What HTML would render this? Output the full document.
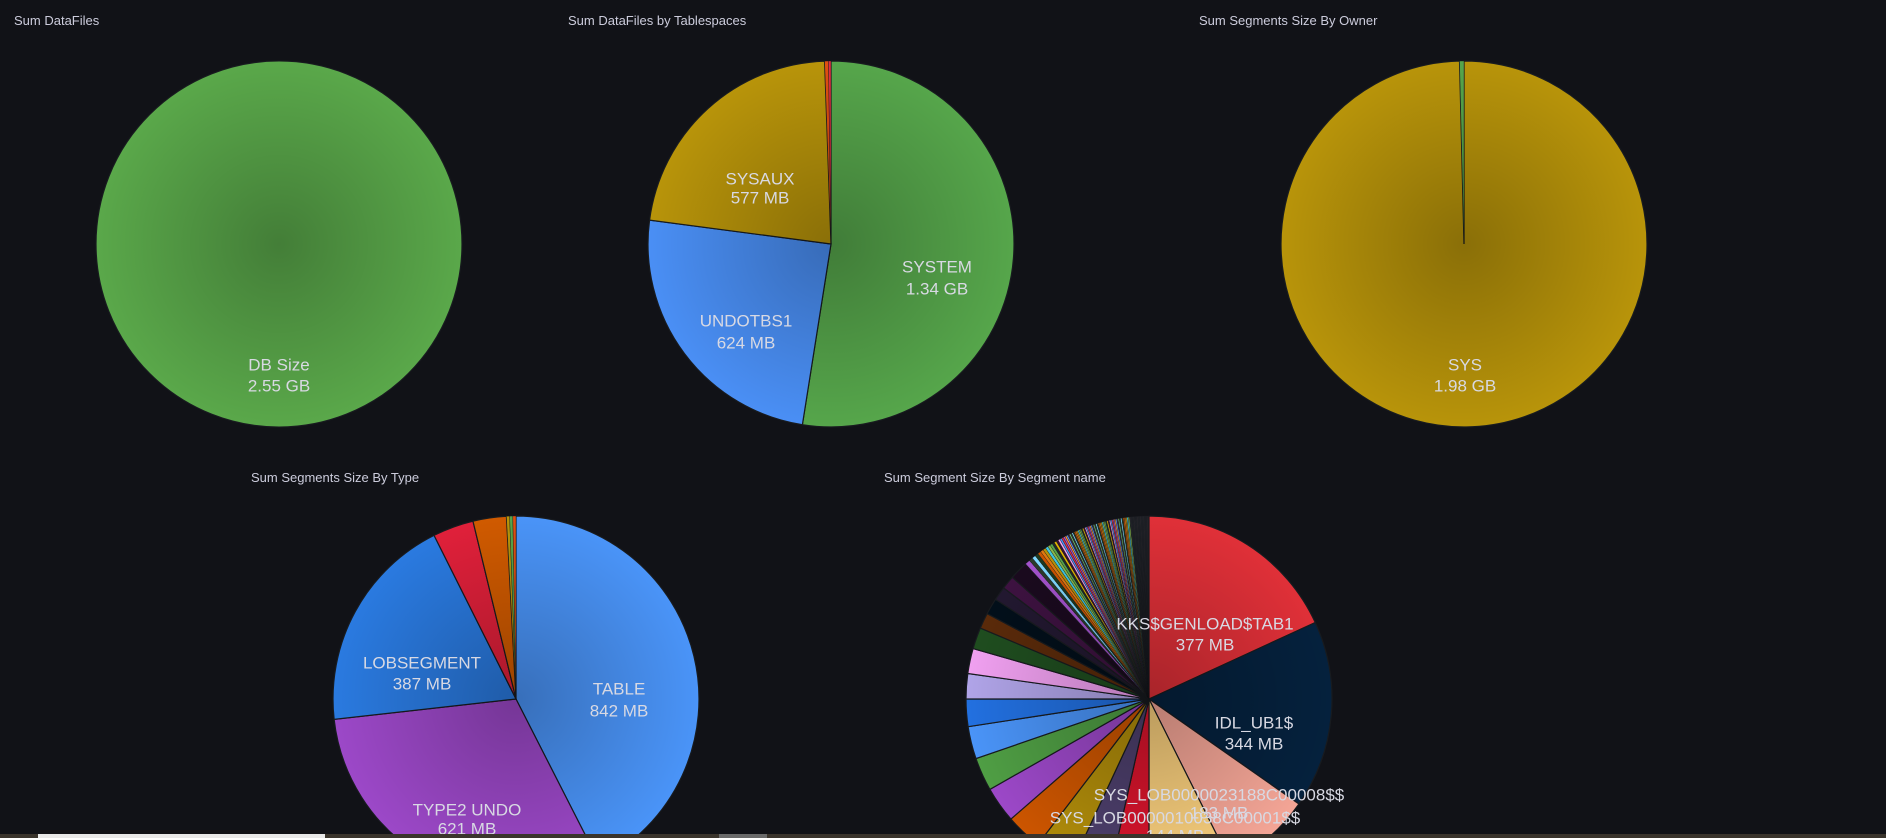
<!DOCTYPE html>
<html><head><meta charset="utf-8"><style>
html,body{margin:0;padding:0;background:#111217;width:1886px;height:838px;overflow:hidden;font-family:"Liberation Sans",sans-serif}
svg{display:block}
.t{fill:#ccccdc;font-size:13px}
.l{fill:#d8d9e3;font-size:17px;text-anchor:middle;dominant-baseline:central}
</style></head><body>
<svg id="s" width="1886" height="838" xmlns="http://www.w3.org/2000/svg">
<defs>
<radialGradient id="shade"><stop offset="0" stop-color="#000" stop-opacity="0.25"/><stop offset="1" stop-color="#000" stop-opacity="0"/></radialGradient>
<clipPath id="cp"><rect x="0" y="0" width="1886" height="838"/></clipPath>
</defs>
<g clip-path="url(#cp)">
<text class="t" x="14" y="25">Sum DataFiles</text>
<text class="t" x="568" y="25">Sum DataFiles by Tablespaces</text>
<text class="t" x="1199" y="25">Sum Segments Size By Owner</text>
<text class="t" x="251" y="482">Sum Segments Size By Type</text>
<text class="t" x="884" y="482">Sum Segment Size By Segment name</text>
<g id="pies"></g>
<g id="labels">
<text class="l" x="279" y="365">DB Size</text><text class="l" x="279" y="386">2.55 GB</text>
<text class="l" x="760" y="179">SYSAUX</text><text class="l" x="760" y="198">577 MB</text>
<text class="l" x="746" y="321">UNDOTBS1</text><text class="l" x="746" y="343">624 MB</text>
<text class="l" x="937" y="267">SYSTEM</text><text class="l" x="937" y="289">1.34 GB</text>
<text class="l" x="1465" y="365">SYS</text><text class="l" x="1465" y="386">1.98 GB</text>
<text class="l" x="422" y="663">LOBSEGMENT</text><text class="l" x="422" y="684">387 MB</text>
<text class="l" x="619" y="689">TABLE</text><text class="l" x="619" y="711">842 MB</text>
<text class="l" x="467" y="810">TYPE2 UNDO</text><text class="l" x="467" y="829">621 MB</text>
<text class="l" x="1205" y="624">KKS$GENLOAD$TAB1</text><text class="l" x="1205" y="645">377 MB</text>
<text class="l" x="1254" y="723">IDL_UB1$</text><text class="l" x="1254" y="744">344 MB</text>
<text class="l" x="1219" y="795">SYS_LOB0000023188C00008$$</text><text class="l" x="1219" y="813">183 MB</text>
<text class="l" x="1175" y="818">SYS_LOB0000010038C00001$$</text><text class="l" x="1175" y="836">144 MB</text>
</g>
<rect x="0" y="834" width="1886" height="4" fill="#3a342c"/>
<rect x="38" y="834" width="287" height="4" fill="#e8e8e8"/>
<rect x="719" y="834" width="48" height="4" fill="#6a6a6a"/>
</g>
</svg>
<script>
var g=document.getElementById('pies'),NS='http://www.w3.org/2000/svg';
function pt(cx,cy,r,a){a=(a-90)*Math.PI/180;return [cx+r*Math.cos(a),cy+r*Math.sin(a)];}
function pie(cx,cy,r,sl){
 for(var i=0;i<sl.length;i++){var a0=sl[i][0],a1=sl[i][1],c=sl[i][2],p=document.createElementNS(NS,'path');
  var d;
  if(a1-a0>=359.99){d='M'+(cx-r)+','+cy+'a'+r+','+r+' 0 1,0 '+2*r+',0a'+r+','+r+' 0 1,0 '+(-2*r)+',0Z';}
  else{var s=pt(cx,cy,r,a0),e=pt(cx,cy,r,a1);d='M'+cx+','+cy+'L'+s[0]+','+s[1]+'A'+r+','+r+' 0 '+((a1-a0)>180?1:0)+',1 '+e[0]+','+e[1]+'Z';}
  p.setAttribute('d',d);p.setAttribute('fill',c);p.setAttribute('stroke','#181b1f');p.setAttribute('stroke-width',(a1-a0)<2?'0.4':'1.2');g.appendChild(p);}
 var c=document.createElementNS(NS,'circle');c.setAttribute('cx',cx);c.setAttribute('cy',cy);c.setAttribute('r',r);c.setAttribute('fill','url(#shade)');g.appendChild(c);
}
pie(279,244,183,[[0,360,'#5aa84a']]);
pie(831,244,183,[[0,189,'#56a64b'],[189,277.5,'#4a8ff5'],[277.5,358,'#b8940a'],[358,359.2,'#e05010'],[359.2,360,'#e02f44']]);
pie(1464,244,183,[[0,358.6,'#b8940a'],[358.6,360,'#56a64b']]);
pie(516,699,183,[[0,153,'#4a94f8'],[153,263.6,'#9c48c8'],[263.6,333.4,'#2a7ae0'],[333.4,346.4,'#e0203a'],[346.4,357,'#d05a00'],[357,358,'#b8940a'],[358,359,'#56a64b'],[359,360,'#e05010']]);
var s5=[[0,65.3,'#e03038'],[65.3,125,'#05213d'],[125,153.5,'#f4a596'],[153.5,180,'#f8ce7c'],[180,192.7,'#d8142c'],[192.7,205,'#4d3f6c'],[205,217.4,'#b08c0a'],[217.4,229,'#cc5500'],[229,240.4,'#9c48c8'],[240.4,251,'#4f9e44'],[251,261.3,'#4a94f8'],[261.3,270,'#2270e0'],[270,278,'#b0a4e8'],[278,286,'#f0a0f0'],[286,292.8,'#1f4d1f'],[292.8,297.8,'#5a2a0a'],[297.8,303,'#020f1a'],[303,307.4,'#221830'],[307.4,311.7,'#3d1240'],[311.7,317.6,'#1a0a1e'],[317.6,319.2,'#a352cc']];
var pal=['#2a3a2a','#80d8ff','#1e3a1e','#cc5500','#e07810','#b8940a','#40c8e0','#8ab84a','#56a64b','#202828','#e0b400','#3a1030','#f0a0f0','#4a94f8','#e02f44','#a352cc','#ff9830','#5794f2','#3a2a40','#73bf69'];
var a=319.2,w=1.2,i=0;
while(a<354){var n=Math.min(a+w,354);s5.push([a,n,pal[i%pal.length]]);a=n;w=Math.max(0.4,w*0.95);i++;}
while(a<359.6){var n=a+0.35;s5.push([a,n,i%3?'#23252b':'#2c2a30']);a=n;i++;}
s5.push([a,360,'#1f2025']);
pie(1149,699,183,s5);
</script>
</body></html>
